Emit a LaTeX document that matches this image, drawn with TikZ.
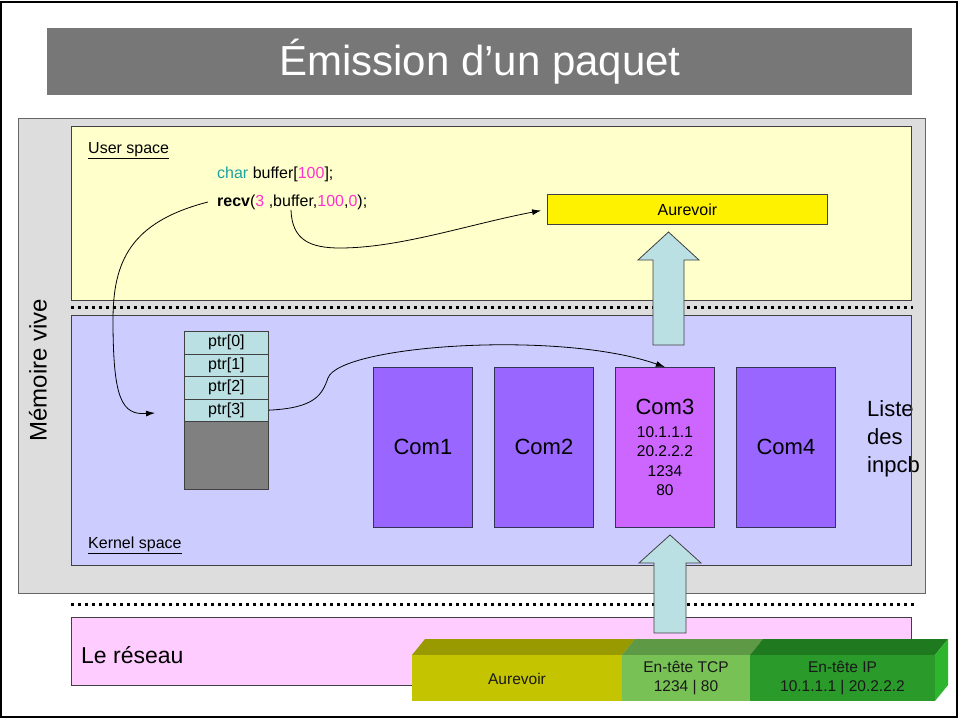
\documentclass[tikz,border=0pt]{standalone}
\usepackage{fontspec}
\setmainfont{Liberation Sans}
\usetikzlibrary{arrows.meta,calc}
\newcommand\fsz[2]{\fontsize{#1}{#2}\selectfont}
\definecolor{titlegray}{HTML}{777777}
\definecolor{memgray}{HTML}{DDDDDD}
\definecolor{userfill}{HTML}{FFFFCC}
\definecolor{kernfill}{HTML}{CCCCFF}
\definecolor{netfill}{HTML}{FFCCFF}
\definecolor{comcol}{HTML}{9966FF}
\definecolor{comthree}{HTML}{CC66FF}
\definecolor{comborder}{HTML}{333355}
\definecolor{ptrcol}{HTML}{BBE0E3}
\definecolor{cellgray}{HTML}{808080}
\definecolor{codeteal}{HTML}{1AA3A3}
\definecolor{codemag}{HTML}{FF33CC}
\definecolor{aurfront}{HTML}{C4C400}
\definecolor{aurtop}{HTML}{999900}
\definecolor{tcpfront}{HTML}{77C155}
\definecolor{tcptop}{HTML}{5E9A45}
\definecolor{ipfront}{HTML}{2A9A2A}
\definecolor{iptop}{HTML}{1F7A1F}
\definecolor{ipside}{HTML}{2DB52D}
\begin{document}
\begin{tikzpicture}[x=1pt,y=-1pt,
  box/.style={draw=black!75, line width=0.8pt, inner sep=0pt, anchor=north west},
  combox/.style={box, draw=comborder, fill=comcol, minimum width=99pt, minimum height=160pt, font=\fsz{22}{26}},
  ptrcell/.style={box, fill=ptrcol, minimum width=84pt, minimum height=22.5pt, font=\fsz{16}{19}},
  label/.style={inner sep=0pt, font=\fsz{16}{19}},
  dotline/.style={line width=3pt, dash pattern=on 3pt off 4pt},
  conn/.style={-{Latex[length=9pt,width=6pt]}, line width=0.8pt},
  blockarrow/.style={fill=ptrcol, draw=black!75, line width=0.8pt, line join=miter},
  pkttext/.style={inner sep=0pt, align=center, font=\fsz{15.5}{19}, text=black!90}
]
\useasboundingbox (0,0) rectangle (958,720);
\fill[white] (0,0) rectangle (958,720);
\draw[line width=2pt] (1,1.5) rectangle (957,717);

% title
\node[box, draw=none, fill=titlegray, minimum width=865pt, minimum height=67pt] (titlebox) at (47,28) {};
\node[text=white, font=\fsz{42}{48}] (title) at (titlebox.center) {Émission d’un paquet};

% memory areas
\node[box, draw=black!60, fill=memgray, minimum width=907pt, minimum height=475pt] (mem) at (18,118) {};
\node[box, fill=userfill, minimum width=840pt, minimum height=174pt] (user) at (71,126) {};
\node[box, fill=kernfill, minimum width=840pt, minimum height=250pt] (kernel) at (71,315) {};
\node[box, fill=netfill, minimum width=840pt, minimum height=68pt] (net) at (71,617) {};

\node[rotate=90, font=\fsz{24}{28}] (memlabel) at (38,370) {Mémoire vive};
\node[label, anchor=base west] (userlabel) at (88,153) {\underline{User space}};
\node[label, anchor=base west] (kernlabel) at (88,548) {\underline{Kernel space}};
\node[inner sep=0pt, anchor=west, font=\fsz{23}{27}] (netlabel) at (81,655) {Le réseau};

% dotted separators
\coordinate (d1a) at (71,307); \coordinate (d1b) at (913,307);
\coordinate (d2a) at (71,604); \coordinate (d2b) at (916,604);
\draw[dotline] (d1a) -- (d1b);
\draw[dotline] (d2a) -- (d2b);

% code
\node[label, anchor=base west] (charline) at (217,178) {\textcolor{codeteal}{char} buffer[\textcolor{codemag}{100}];};
\node[label, anchor=base west] (recvline) at (217,206) {\textbf{recv}(\textcolor{codemag}{3} ,buffer,\textcolor{codemag}{100},\textcolor{codemag}{0});};
\coordinate (recvstart) at (208,202);
\coordinate (bufpt) at (291,210);

% user buffer
\node[box, fill=yellow, minimum width=280pt, minimum height=30pt, font=\fsz{16}{19}] (aur) at (547,194) {Aurevoir};

% ptr table
\node[ptrcell] (ptr0) at (184,331) {ptr[0]};
\node[ptrcell] (ptr1) at (184,353.5) {ptr[1]};
\node[ptrcell] (ptr2) at (184,376) {ptr[2]};
\node[ptrcell] (ptr3) at (184,398.5) {ptr[3]};
\node[box, fill=cellgray, minimum width=84pt, minimum height=68pt] (ptrrest) at (184,421) {};

% inpcb
\node[combox] (com1) at (373,367) {Com1};
\node[combox] (com2) at (494,367) {Com2};
\node[combox, fill=comthree, align=center, font=\fsz{15.5}{19.5}] (com3) at (615,367)
  {{\fsz{22}{26}\selectfont Com3}\\[3pt]10.1.1.1\\20.2.2.2\\1234\\80};
\node[combox] (com4) at (736,367) {Com4};
\node[inner sep=0pt, anchor=north west, align=left, font=\fsz{22}{28}] (liste) at (867,400) {Liste\\des\\inpcb};
\draw[draw=black!75, line width=0.8pt] (kernel.north east) -- (kernel.south east);

% block arrows
\draw[blockarrow] (653,345) -- (653,260) -- (638,260) -- (668.5,232) -- (699,260) -- (684,260) -- (684,345) -- cycle;
\draw[blockarrow] (654,633) -- (654,563) -- (639,563) -- (670,535) -- (701,563) -- (686,563) -- (686,633) -- cycle;

% packet
\fill[aurtop] (412,655) -- (425,639) -- (635,639) -- (622,655) -- cycle;
\fill[tcptop] (622,655) -- (635,639) -- (763,639) -- (750,655) -- cycle;
\fill[iptop] (750,655) -- (763,639) -- (948,639) -- (935,655) -- cycle;
\fill[ipside] (935,655) -- (948,639) -- (948,685) -- (935,701) -- cycle;
\fill[aurfront] (412,655) rectangle (622,701);
\fill[tcpfront] (622,655) rectangle (750,701);
\fill[ipfront] (750,655) rectangle (935,701);
\node[pkttext] (pkaur) at (517,679) {Aurevoir};
\node[pkttext] (pktcp) at (686,678) {En-tête TCP\\1234 | 80};
\node[pkttext] (pkip) at (842.5,678) {En-tête IP\\10.1.1.1 | 20.2.2.2};

% connectors
\coordinate (ptrin) at (155,413);
\draw[conn] (recvstart) .. controls (130,222) and (113,262) .. (113,320)
  .. controls (113,400) and (122,415) .. (ptrin);
\draw[conn, shorten >=6pt] (bufpt) .. controls (292,240) and (310,248) .. (340,248)
  .. controls (400,248) and (470,224) .. (aur.west);
\draw[conn] (ptr3.east) .. controls (315,408) and (322,395) .. (328,378)
  .. controls (340,345) and (560,330) .. (com3.north);
\end{tikzpicture}
\end{document}
